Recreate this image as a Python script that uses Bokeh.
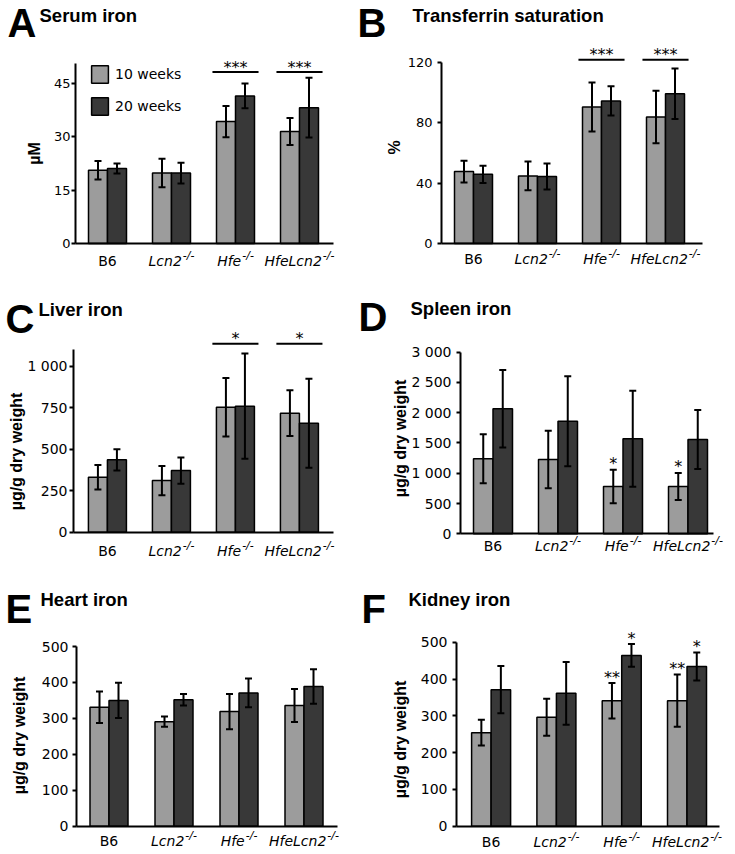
import math
from bokeh.plotting import figure
from bokeh.models import (ColumnDataSource, Whisker, TeeHead, Label, Legend,
                          LegendItem, FixedTicker, Range1d)
from bokeh.layouts import row, column
from bokeh.embed import file_html
from bokeh.resources import INLINE
from bokeh.core.properties import value

# ---------------- data ----------------
groups = ["B6", "Lcn2", "Hfe", "HfeLcn2"]
group_sup = ["", "-/-", "-/-", "-/-"]
group_italic = [False, True, True, True]
series = ["10 weeks", "20 weeks"]

serum_10w = [20.6, 19.8, 34.3, 31.5]
serum_10w_sd = [2.6, 4.0, 4.4, 3.8]
serum_20w = [21.1, 19.8, 41.5, 38.2]
serum_20w_sd = [1.4, 2.9, 3.5, 8.4]
serum_sig = [None, None, 48.2, 48.2]
serum_sig_text = ["", "", "***", "***"]
serum_ticks = [0, 15, 30, 45]
serum_tick_labels = ["0", "15", "30", "45"]

tsat_10w = [47.7, 44.8, 90.5, 83.9]
tsat_10w_sd = [7.2, 9.5, 16.2, 17.4]
tsat_20w = [45.9, 44.4, 94.5, 99.3]
tsat_20w_sd = [5.7, 8.6, 9.7, 16.8]
tsat_sig = [None, None, 121.8, 121.8]
tsat_sig_text = ["", "", "***", "***"]
tsat_ticks = [0, 40, 80, 120]
tsat_tick_labels = ["0", "40", "80", "120"]

liver_10w = [331, 311, 753, 717]
liver_10w_sd = [74, 88, 176, 138]
liver_20w = [436, 371, 759, 657]
liver_20w_sd = [64, 79, 317, 268]
liver_sig = [None, None, 1135, 1135]
liver_sig_text = ["", "", "*", "*"]
liver_ticks = [0, 250, 500, 750, 1000]
liver_tick_labels = ["0", "250", "500", "750", "1 000"]

spleen_10w = [1238, 1227, 781, 781]
spleen_10w_sd = [405, 474, 278, 223]
spleen_20w = [2064, 1860, 1568, 1557]
spleen_20w_sd = [641, 743, 793, 487]
spleen_10w_stars = ["", "", "*", "*"]
spleen_ticks = [0, 500, 1000, 1500, 2000, 2500, 3000]
spleen_tick_labels = ["0", "500", "1 000", "1 500", "2 000", "2 500", "3 000"]

heart_10w = [331, 291, 319, 336]
heart_10w_sd = [44, 14, 49, 46]
heart_20w = [350, 352, 371, 389]
heart_20w_sd = [49, 16, 40, 48]
heart_ticks = [0, 100, 200, 300, 400, 500]
heart_tick_labels = ["0", "100", "200", "300", "400", "500"]

kidney_10w = [254, 296, 341, 341]
kidney_10w_sd = [35, 50, 48, 71]
kidney_20w = [371, 361, 464, 434]
kidney_20w_sd = [64, 85, 31, 38]
kidney_10w_stars = ["", "", "**", "**"]
kidney_20w_stars = ["", "", "*", "*"]
kidney_ticks = [0, 100, 200, 300, 400, 500]
kidney_tick_labels = ["0", "100", "200", "300", "400", "500"]

# ---------------- style ----------------
LIGHT = "#9c9c9c"
DARK = "#383838"
FONT = "DejaVu Sans"
BFONT = "Liberation Sans"
EM = {'B': 0.686, '6': 0.636, 'L': 0.557, 'c': 0.550, 'n': 0.634, '2': 0.636,
      'H': 0.752, 'f': 0.352, 'e': 0.615, '-': 0.361, '/': 0.337}
MID = 0.35  # distance (in em) from baseline up to the centre of the text box


def text_w(s, size):
    return sum(EM.get(ch, 0.6) for ch in s) * size


def make_panel(d, L):
    fx, fy, fw, fh = L["fig"]
    fl = L["frame_left"]
    sp = L["spacing"]
    xs = L["x_start"]
    xe = L["x_end"]
    y0 = L["y0"]
    ppu = L["ppu"]

    def dx(ax):
        return xs + (ax - fl) / sp

    def dy(ay):
        return (y0 - ay) / ppu

    p = figure(width=fw, height=fh, output_backend="svg", toolbar_location=None,
               x_range=Range1d(dx(fx), dx(fx + fw)),
               y_range=Range1d(dy(fy + fh), dy(fy)),
               min_border=0, min_border_left=0, min_border_right=0,
               min_border_top=0, min_border_bottom=0, title=None)
    p.outline_line_color = None
    p.xgrid.visible = False
    p.ygrid.visible = False
    p.background_fill_color = "white"
    p.border_fill_color = "white"

    # axes (library axes, drawn at fixed data locations)
    xa = p.xaxis[0]
    xa.fixed_location = 0
    xa.bounds = (xs, xe)
    xa.ticker = FixedTicker(ticks=[])
    xa.major_label_text_font_size = "0px"
    xa.major_tick_line_color = None
    xa.minor_tick_line_color = None
    xa.axis_line_width = 2
    xa.axis_line_color = "black"

    ya = p.yaxis[0]
    ya.fixed_location = xs
    ya.ticker = FixedTicker(ticks=d["ticks"])
    ya.major_label_overrides = {t: lab for t, lab in zip(d["ticks"], d["tick_labels"])}
    ya.bounds = (0, d["top"])
    ya.axis_line_width = 2
    ya.axis_line_color = "black"
    ya.major_tick_in = 0
    ya.major_tick_out = 4
    ya.major_tick_line_width = 2
    ya.major_tick_line_color = "black"
    ya.minor_tick_line_color = None
    ya.major_label_standoff = L["standoff"]
    ya.major_label_text_font = FONT
    ya.major_label_text_font_size = L["tick_size"]
    ya.major_label_text_color = "black"

    # bars + error bars
    bw = L["bar_px"] / sp
    cx = [i + 1 for i in range(len(groups))]
    rends = []
    sets = [(d["v10"], d["s10"], LIGHT, d.get("stars10"), -0.5),
            (d["v20"], d["s20"], DARK, d.get("stars20"), 0.5)]
    for vals, sds, col, stars, side in sets:
        xb = [c + side * bw for c in cx]
        hi = [v + s for v, s in zip(vals, sds)]
        lo = [v - s for v, s in zip(vals, sds)]
        src = ColumnDataSource(dict(x=xb, top=vals, hi=hi, lo=lo,
                                    st=stars if stars else [""] * len(vals)))
        r = p.vbar(x="x", top="top", bottom=0, width=bw, source=src,
                   fill_color=col, line_color="black", line_width=1.5)
        rends.append(r)
        p.add_layout(Whisker(source=src, base="x", upper="hi", lower="lo",
                             level="annotation",
                             line_color="black", line_width=2,
                             upper_head=TeeHead(size=7, line_width=2, line_color="black"),
                             lower_head=TeeHead(size=7, line_width=2, line_color="black")))
        if stars:
            p.text(x="x", y="hi", text="st", source=src, text_align="center",
                   text_baseline="middle", text_font=value(FONT),
                   text_font_size="16px", text_color="black", y_offset=-6)

    # significance lines
    if d.get("sig"):
        idx = [i for i, v in enumerate(d["sig"]) if v is not None]
        ssrc = ColumnDataSource(dict(
            xc=[cx[i] for i in idx],
            x0=[cx[i] - 0.36 for i in idx],
            x1=[cx[i] + 0.36 for i in idx],
            y=[d["sig"][i] for i in idx],
            t=[d["sig_text"][i] for i in idx]))
        p.segment(x0="x0", y0="y", x1="x1", y1="y", source=ssrc,
                  line_color="black", line_width=2)
        p.text(x="xc", y="y", text="t", source=ssrc, text_align="center",
               text_baseline="middle", text_font=value(FONT),
               text_font_size="16px", text_color="black", y_offset=-5)

    def lab(text, ax, base, size, font=FONT, style="normal", align="left"):
        # base = baseline position (page px); box centre sits MID em above it
        p.add_layout(Label(x=dx(ax), y=dy(base - MID * size), text=text,
                           text_font=font, text_font_size=f"{size}px",
                           text_font_style=style, text_align=align,
                           text_baseline="middle", text_color="black"))

    # panel letter, title
    lab(L["letter"], L["letter_pos"][0], L["letter_pos"][1], 40, BFONT, "bold")
    lab(d["title"], L["title_pos"][0], L["title_pos"][1], 18.5, BFONT, "bold")
    # y label (rotated, centred)
    p.add_layout(Label(x=dx(L["ylabel_pos"][0]), y=dy(L["ylabel_pos"][1]),
                       text=d["ylabel"], text_font=BFONT, text_font_size="16px",
                       text_font_style="bold", text_align="center",
                       text_baseline="middle", angle=math.pi / 2, text_color="black"))

    # category labels with superscripts
    for i, g in enumerate(groups):
        cpx = fl + (cx[i] - xs) * sp
        wm = text_w(g, 14)
        ws = text_w(group_sup[i], 11) + (1 if group_sup[i] else 0)
        left = cpx - (wm + ws) / 2
        lab(g, left, L["cat_base"], 14, FONT, "italic" if group_italic[i] else "normal")
        if group_sup[i]:
            lab(group_sup[i], left + wm + 1, L["cat_base"] - 6, 11, FONT, "italic")

    # legend
    if L.get("legend"):
        lx, ly = L["legend"]
        leg_h = 22 * 2 + 10
        leg = Legend(items=[LegendItem(label=value(series[0]), renderers=[rends[0]]),
                            LegendItem(label=value(series[1]), renderers=[rends[1]])],
                     location=(lx - fx, (fy + fh) - ly - leg_h),
                     glyph_width=21, glyph_height=22, label_standoff=5,
                     spacing=10, padding=0, margin=0,
                     label_text_font=FONT, label_text_font_size="14px",
                     label_text_color="black",
                     border_line_color=None, background_fill_alpha=0)
        p.add_layout(leg)
    return p


panels = [
    (dict(title="Serum iron", ylabel="µM", v10=serum_10w, s10=serum_10w_sd,
          v20=serum_20w, s20=serum_20w_sd, sig=serum_sig, sig_text=serum_sig_text,
          ticks=serum_ticks, tick_labels=serum_tick_labels, top=50.5),
     dict(fig=(0, 0, 355, 270), frame_left=75, spacing=64, x_start=0.5, x_end=4.53,
          y0=243, ppu=3.556, standoff=1, tick_size="13px", bar_px=19,
          letter="A", letter_pos=(7, 36), title_pos=(39, 21), ylabel_pos=(34, 153),
          cat_base=265, legend=(89, 63))),
    (dict(title="Transferrin saturation", ylabel="%", v10=tsat_10w, s10=tsat_10w_sd,
          v20=tsat_20w, s20=tsat_20w_sd, sig=tsat_sig, sig_text=tsat_sig_text,
          ticks=tsat_ticks, tick_labels=tsat_tick_labels, top=120),
     dict(fig=(355, 0, 378, 270), frame_left=441, spacing=64, x_start=0.5, x_end=4.58,
          y0=243, ppu=1.508, standoff=5, tick_size="13px", bar_px=19,
          letter="B", letter_pos=(357, 36), title_pos=(412, 21), ylabel_pos=(394, 147),
          cat_base=263)),
    (dict(title="Liver iron", ylabel="µg/g dry weight", v10=liver_10w, s10=liver_10w_sd,
          v20=liver_20w, s20=liver_20w_sd, sig=liver_sig, sig_text=liver_sig_text,
          ticks=liver_ticks, tick_labels=liver_tick_labels, top=1100),
     dict(fig=(0, 270, 355, 290), frame_left=73, spacing=64, x_start=0.47, x_end=4.53,
          y0=531.7, ppu=0.166, standoff=2, tick_size="14px", bar_px=19,
          letter="C", letter_pos=(5, 332), title_pos=(38, 315), ylabel_pos=(16, 451),
          cat_base=555)),
    (dict(title="Spleen iron", ylabel="µg/g dry weight", v10=spleen_10w, s10=spleen_10w_sd,
          v20=spleen_20w, s20=spleen_20w_sd, stars10=spleen_10w_stars,
          ticks=spleen_ticks, tick_labels=spleen_tick_labels, top=3000),
     dict(fig=(355, 270, 378, 290), frame_left=460, spacing=65, x_start=0.5, x_end=4.39,
          y0=533.3, ppu=0.06056, standoff=5, tick_size="14px", bar_px=19.5,
          letter="D", letter_pos=(358, 330), title_pos=(410, 314), ylabel_pos=(400, 438),
          cat_base=550)),
    (dict(title="Heart iron", ylabel="µg/g dry weight", v10=heart_10w, s10=heart_10w_sd,
          v20=heart_20w, s20=heart_20w_sd,
          ticks=heart_ticks, tick_labels=heart_tick_labels, top=500),
     dict(fig=(0, 560, 355, 292), frame_left=76, spacing=65, x_start=0.5, x_end=4.52,
          y0=825.7, ppu=0.3593, standoff=4, tick_size="14px", bar_px=19,
          letter="E", letter_pos=(5, 622), title_pos=(40, 605), ylabel_pos=(19, 735),
          cat_base=845)),
    (dict(title="Kidney iron", ylabel="µg/g dry weight", v10=kidney_10w, s10=kidney_10w_sd,
          v20=kidney_20w, s20=kidney_20w_sd, stars10=kidney_10w_stars,
          stars20=kidney_20w_stars,
          ticks=kidney_ticks, tick_labels=kidney_tick_labels, top=500),
     dict(fig=(355, 560, 378, 292), frame_left=456, spacing=65.3, x_start=0.47, x_end=4.5,
          y0=825.7, ppu=0.368, standoff=5, tick_size="14px", bar_px=19.5,
          letter="F", letter_pos=(361, 622), title_pos=(408, 605), ylabel_pos=(400, 739),
          cat_base=846)),
]

figs = [make_panel(d, L) for d, L in panels]
layout = column(row(figs[0], figs[1]), row(figs[2], figs[3]), row(figs[4], figs[5]))

open("out.html", "w").write(file_html(layout, INLINE))
